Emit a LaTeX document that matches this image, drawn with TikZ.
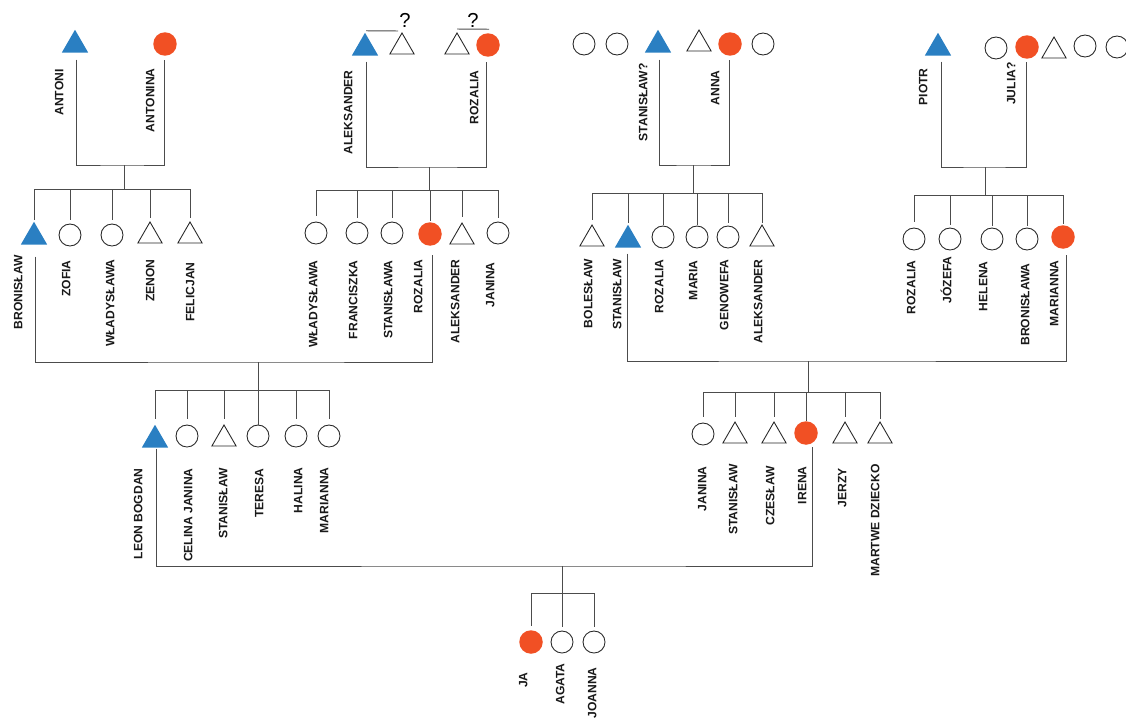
\documentclass[tikz,border=0pt]{standalone}
\usepackage{fontspec}
\setmainfont{Liberation Sans}
\usetikzlibrary{shapes.geometric, calc}
\definecolor{lineblue}{HTML}{2A7FC2}
\definecolor{lineorange}{HTML}{F15024}

\begin{document}
\begin{tikzpicture}[x=0.02cm, y=-0.02cm,
  male/.style={regular polygon, regular polygon sides=3, draw=black!85,
               line width=0.5pt, minimum size=0.56cm, inner sep=0pt, outer sep=0pt},
  female/.style={circle, draw=black!85, line width=0.5pt,
                 minimum size=0.44cm, inner sep=0pt, outer sep=0pt},
  dmale/.style={male, draw=none, fill=lineblue, minimum size=0.61cm},
  dfemale/.style={female, draw=none, fill=lineorange, minimum size=0.47cm},
  lbl/.style={font=\fontsize{6.9}{8}\selectfont\bfseries, text=black!90,
              rotate=90, anchor=east, inner sep=0pt, text height=5pt, text depth=0pt},
  ln/.style={draw=black!70, line width=0.55pt},
  qmark/.style={font=\fontsize{11.5}{13}\selectfont, inner sep=0pt},
]
\useasboundingbox (0,0) rectangle (1126,720);

%% Generation 1 (great-grandparents and their siblings)
\node[dmale]   (antoni)     at (75,45)   {};
\node[dfemale] (antonina)   at (165,44)  {};
\node[dmale]   (aleksander) at (365,48)  {};
\node[male]    (alekq)      at (402,47)  {};
\node[male]    (rozq)       at (457,47)  {};
\node[dfemale] (rozalia)    at (488,45)  {};
\node[female]  (sib1)       at (584,44)  {};
\node[female]  (sib2)       at (617,44)  {};
\node[dmale]   (stanislawq) at (658,45)  {};
\node[male]    (sib3)       at (699,44)  {};
\node[dfemale] (anna)       at (730,44)  {};
\node[female]  (sib4)       at (763,44)  {};
\node[dmale]   (piotr)      at (938,48)  {};
\node[female]  (sib5)       at (996,48)  {};
\node[dfemale] (julia)      at (1027,47) {};
\node[male]    (sib6)       at (1054,51) {};
\node[female]  (sib7)       at (1085,46) {};
\node[female]  (sib8)       at (1117,47) {};

\node[qmark] (q1) at (405,20) {?};
\node[qmark] (q2) at (473,20) {?};
\draw[ln] ($(aleksander.north)+(1,-2)$) -- ($(alekq.north)+(-4,-2)$);
\draw[ln] ($(rozq.north)+(0,-4)$) -- ($(rozalia.north)+(1,-4)$);

\node[lbl] (l-antoni)     at (59,69)   {ANTONI};
\node[lbl] (l-antonina)   at (150,68)  {ANTONINA};
\node[lbl] (l-aleksander) at (348,70)  {ALEKSANDER};
\node[lbl] (l-rozalia)    at (474,70)  {ROZALIA};
\node[lbl] (l-stanislawq) at (643,63)  {STANISŁAW?};
\node[lbl] (l-anna)       at (715,70)  {ANNA};
\node[lbl] (l-piotr)      at (923,68)  {PIOTR};
\node[lbl] (l-julia)      at (1011,62) {JULIA?};

%% Generation 2
\node[dmale]   (bronislaw)   at (34,237)   {};
\node[female]  (zofia)       at (70,235)   {};
\node[female]  (wladyslawa)  at (112,235)  {};
\node[male]    (zenon)       at (150,236)  {};
\node[male]    (felicjan)    at (190,236)  {};
\node[female]  (wladyslawa2) at (316,233)  {};
\node[female]  (franciszka)  at (357,233)  {};
\node[female]  (stanislawa)  at (392,233)  {};
\node[dfemale] (rozalia2)    at (430,234)  {};
\node[male]    (aleksander2) at (462,237)  {};
\node[female]  (janina)      at (498,233)  {};
\node[male]    (boleslaw)    at (592,239)  {};
\node[dmale]   (stanislaw)   at (628,240)  {};
\node[female]  (rozalia3)    at (663,237)  {};
\node[female]  (maria)       at (697,237)  {};
\node[female]  (genowefa)    at (728,237)  {};
\node[male]    (aleksander3) at (762,239)  {};
\node[female]  (rozalia4)    at (914,239)  {};
\node[female]  (jozefa)      at (950,239)  {};
\node[female]  (helena)      at (992,239)  {};
\node[female]  (bronislawa)  at (1027,239) {};
\node[dfemale] (marianna)    at (1063,237) {};

\node[lbl] (l-bronislaw)   at (18,255)   {BRONISŁAW};
\node[lbl] (l-zofia)       at (66,260)   {ZOFIA};
\node[lbl] (l-wladyslawa)  at (110,259)  {WŁADYSŁAWA};
\node[lbl] (l-zenon)       at (150,259)  {ZENON};
\node[lbl] (l-felicjan)    at (190,262)  {FELICJAN};
\node[lbl] (l-wladyslawa2) at (313,260)  {WŁADYSŁAWA};
\node[lbl] (l-franciszka)  at (353,260)  {FRANCISZKA};
\node[lbl] (l-stanislawa)  at (388,260)  {STANISŁAWA};
\node[lbl] (l-rozalia2)    at (418,259)  {ROZALIA};
\node[lbl] (l-aleksander2) at (455,259)  {ALEKSANDER};
\node[lbl] (l-janina)      at (490,262)  {JANINA};
\node[lbl] (l-boleslaw)    at (588,259)  {BOLESŁAW};
\node[lbl] (l-stanislaw)   at (617,259)  {STANISŁAW};
\node[lbl] (l-rozalia3)    at (659,259)  {ROZALIA};
\node[lbl] (l-maria)       at (693,260)  {MARIA};
\node[lbl] (l-genowefa)    at (724,259)  {GENOWEFA};
\node[lbl] (l-aleksander3) at (758,259)  {ALEKSANDER};
\node[lbl] (l-rozalia4)    at (911,260)  {ROZALIA};
\node[lbl] (l-jozefa)      at (947,256)  {JÓZEFA};
\node[lbl] (l-helena)      at (983,261)  {HELENA};
\node[lbl] (l-bronislawa)  at (1025,263) {BRONISŁAWA};
\node[lbl] (l-marianna)    at (1054,260) {MARIANNA};

%% Generation 3
\node[dmale]   (leon)       at (155,440) {};
\node[female]  (celina)     at (187,436) {};
\node[male]    (stanislaw3) at (224,439) {};
\node[female]  (teresa)     at (258,436) {};
\node[female]  (halina)     at (296,436) {};
\node[female]  (marianna2)  at (329,436) {};
\node[female]  (janina2)    at (703,434) {};
\node[male]    (stanislaw4) at (735,436) {};
\node[male]    (czeslaw)    at (774,436) {};
\node[dfemale] (irena)      at (806,433) {};
\node[male]    (jerzy)      at (845,436) {};
\node[male]    (martwe)     at (880,436) {};

\node[lbl] (l-leon)       at (138,468) {LEON BOGDAN};
\node[lbl] (l-celina)     at (188,468) {CELINA JANINA};
\node[lbl] (l-stanislaw3) at (223,468) {STANISŁAW};
\node[lbl] (l-teresa)     at (259,468) {TERESA};
\node[lbl] (l-halina)     at (298,467) {HALINA};
\node[lbl] (l-marianna2)  at (324,467) {MARIANNA};
\node[lbl] (l-janina2)    at (702,466) {JANINA};
\node[lbl] (l-stanislaw4) at (733,464) {STANISŁAW};
\node[lbl] (l-czeslaw)    at (770,466) {CZESŁAW};
\node[lbl] (l-irena)      at (802,466) {IRENA};
\node[lbl] (l-jerzy)      at (842,468) {JERZY};
\node[lbl] (l-martwe)     at (875,464) {MARTWE DZIECKO};

%% Generation 4
\node[dfemale] (ja)     at (531,642) {};
\node[female]  (agata)  at (562,642) {};
\node[female]  (joanna) at (594,642) {};

\node[lbl] (l-ja)     at (523,672) {JA};
\node[lbl] (l-agata)  at (560,663) {AGATA};
\node[lbl] (l-joanna) at (592,667) {JOANNA};

%% Couples and sibling bars
\coordinate (u1) at (124,165);  \coordinate (b1) at (124,189);
\coordinate (u2) at (429,167);  \coordinate (b2) at (429,190);
\coordinate (u3) at (693,165);  \coordinate (b3) at (693,193);
\coordinate (u4) at (985,167);  \coordinate (b4) at (985,195);
\coordinate (u5) at (258,362);  \coordinate (b5) at (258,390);
\coordinate (u6) at (808,361);  \coordinate (b6) at (808,392);
\coordinate (u7) at (562,566);  \coordinate (b7) at (562,593);

\draw[ln] ($(antoni.south)+(1,7)$) |- (u1) -| ($(antonina.south)+(-1,4)$);
\draw[ln] ($(aleksander.south)+(1,6)$) |- (u2) -| ($(rozalia.south)+(-2,5)$);
\draw[ln] ($(stanislawq.south)+(1,7)$) |- (u3) -| ($(anna.south)+(-1,4)$);
\draw[ln] ($(piotr.south)+(3,6)$) |- (u4) -| ($(julia.south)+(-1,3)$);
\draw[ln] ($(bronislaw.south)+(1,12)$) |- (u5) -| ($(rozalia2.south)+(2,9)$);
\draw[ln] ($(stanislaw.south)+(-1,6)$) |- (u6) -| ($(marianna.south)+(3,6)$);
\draw[ln] ($(leon.south)+(1,1)$) |- (u7) -| ($(irena.south)+(6,2)$);

\draw[ln] (u1) -- (b1);
\draw[ln] (u2) -- (b2);
\draw[ln] (u3) -- (b3);
\draw[ln] (u4) -- (b4);
\draw[ln] (u5) -- (b5);
\draw[ln] (u6) -- (b6);
\draw[ln] (u7) -- (b7);

\draw[ln] (bronislaw |- b1) -- (felicjan |- b1);
\draw[ln] (wladyslawa2 |- b2) -- (janina |- b2);
\draw[ln] (boleslaw |- b3) -- (aleksander3 |- b3);
\draw[ln] (rozalia4 |- b4) -- (marianna |- b4);
\draw[ln] (leon |- b5) -- (marianna2 |- b5);
\draw[ln] (janina2 |- b6) -- (martwe |- b6);
\draw[ln] (ja |- b7) -- (joanna |- b7);

%% Drops to each child
\draw[ln] (bronislaw |- b1) -- ($(bronislaw.north)+(0,-2)$);
\draw[ln] (zofia |- b1) -- ($(zofia.north)+(0,-4)$);
\draw[ln] (wladyslawa |- b1) -- ($(wladyslawa.north)+(0,-4)$);
\draw[ln] (zenon |- b1) -- ($(zenon.north)+(0,-4)$);
\draw[ln] (felicjan |- b1) -- ($(felicjan.north)+(0,-4)$);
\draw[ln] (wladyslawa2 |- b2) -- ($(wladyslawa2.north)+(0,-6)$);
\draw[ln] (franciszka |- b2) -- ($(franciszka.north)+(0,-4)$);
\draw[ln] (stanislawa |- b2) -- ($(stanislawa.north)+(0,-4)$);
\draw[ln] (rozalia2 |- b2) -- ($(rozalia2.north)+(0,-1)$);
\draw[ln] (aleksander2 |- b2) -- ($(aleksander2.north)+(0,-6)$);
\draw[ln] (janina |- b2) -- ($(janina.north)+(0,-4)$);
\draw[ln] (boleslaw |- b3) -- ($(boleslaw.north)+(0,-5)$);
\draw[ln] (stanislaw |- b3) -- ($(stanislaw.north)+(0,-2)$);
\draw[ln] (rozalia3 |- b3) -- ($(rozalia3.north)+(0,-1)$);
\draw[ln] (maria |- b3) -- ($(maria.north)+(0,-1)$);
\draw[ln] (genowefa |- b3) -- ($(genowefa.north)+(0,-3)$);
\draw[ln] (aleksander3 |- b3) -- ($(aleksander3.north)+(0,-2)$);
\draw[ln] (rozalia4 |- b4) -- ($(rozalia4.north)+(0,-6)$);
\draw[ln] (jozefa |- b4) -- ($(jozefa.north)+(0,-3)$);
\draw[ln] (helena |- b4) -- ($(helena.north)+(0,-2)$);
\draw[ln] (bronislawa |- b4) -- ($(bronislawa.north)+(0,-2)$);
\draw[ln] (marianna |- b4) -- ($(marianna.north)+(0,-1)$);
\draw[ln] (leon |- b5) -- ($(leon.north)+(0,-6)$);
\draw[ln] (celina |- b5) -- ($(celina.north)+(0,-6)$);
\draw[ln] (stanislaw3 |- b5) -- ($(stanislaw3.north)+(0,-6)$);
\draw[ln] (teresa |- b5) -- (teresa.north);
\draw[ln] (halina |- b5) -- ($(halina.north)+(0,-6)$);
\draw[ln] (marianna2 |- b5) -- ($(marianna2.north)+(0,-6)$);
\draw[ln] (janina2 |- b6) -- ($(janina2.north)+(0,-6)$);
\draw[ln] (stanislaw4 |- b6) -- ($(stanislaw4.north)+(0,-5)$);
\draw[ln] (czeslaw |- b6) -- ($(czeslaw.north)+(0,-5)$);
\draw[ln] (irena |- b6) -- (irena.north);
\draw[ln] (jerzy |- b6) -- ($(jerzy.north)+(0,-5)$);
\draw[ln] (martwe |- b6) -- ($(martwe.north)+(0,-3)$);
\draw[ln] (ja |- b7) -- ($(ja.north)+(0,-4)$);
\draw[ln] (agata |- b7) -- ($(agata.north)+(0,-4)$);
\draw[ln] (joanna |- b7) -- ($(joanna.north)+(0,-4)$);
\end{tikzpicture}
\end{document}
